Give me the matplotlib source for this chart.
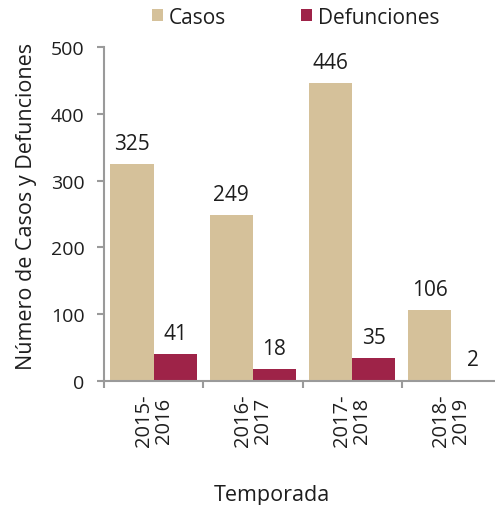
import matplotlib
matplotlib.use("Agg")
import matplotlib.pyplot as plt
import numpy as np

categories = ["2015-\n2016", "2016-\n2017", "2017-\n2018", "2018-\n2019"]
casos = [325, 249, 446, 106]
defunciones = [41, 18, 35, 2]

plt.rcParams['font.family'] = ['Open Sans', 'DejaVu Sans']
txt = '#1e1e1e'
axcol = '#9a9a9a'

fig = plt.figure(figsize=(4.95, 5.06), dpi=100)
ax = fig.add_axes([104/495, (506-382)/506, (501-104)/495, (382-48)/506])

x = np.arange(len(categories))
w = 0.435
b1 = ax.bar(x - w/2, casos, w, color='#D5C19A', label='Casos')
b2 = ax.bar(x + w/2, defunciones, w, color='#9E2348', label='Defunciones')
for bars in (b1, b2):
    ax.bar_label(bars, padding=7, fontsize=15, color=txt)

ax.set_xlim(-0.5, len(categories) - 0.5)
ax.set_ylim(0, 500)
ax.set_yticks(range(0, 501, 100))
ax.set_xticks(np.arange(len(categories) + 1) - 0.5)
ax.set_xticklabels([])
ax.set_xticks(x, minor=True)
ax.set_xticklabels(categories, minor=True, rotation=90, fontsize=14.5, color=txt,
                   linespacing=1.0)
ax.tick_params(axis='x', which='minor', length=0, pad=9)
ax.tick_params(axis='x', which='major', length=5, color=axcol, width=1.5)
ax.tick_params(axis='y', length=5, color=axcol, width=1.5, labelsize=14,
               labelcolor=txt, pad=9)
for s in ['top', 'right']:
    ax.spines[s].set_visible(False)
for s in ['left', 'bottom']:
    ax.spines[s].set_color(axcol)
    ax.spines[s].set_linewidth(1.5)

ax.set_ylabel('Número de Casos y Defunciones', fontsize=15.5, color=txt)
ax.yaxis.set_label_coords(-0.168, 0.527)
ax.set_xlabel('Temporada', fontsize=15.5, color=txt)
ax.xaxis.set_label_coords(0.423, -0.308)

fig.legend(handles=[b1, b2], loc='center', bbox_to_anchor=(296/495, 1 - 18/506),
           ncol=2, frameon=False, fontsize=15, handlelength=0.5, handleheight=0.5,
           handletextpad=0.3, columnspacing=3.6, labelcolor=txt, borderpad=0)

fig.savefig('out.png', dpi=100)
